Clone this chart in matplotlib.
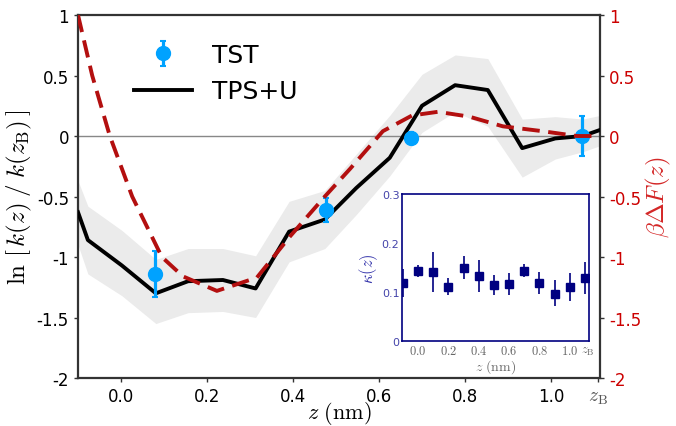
import numpy as np
import matplotlib.pyplot as plt

plt.rcParams['mathtext.fontset'] = 'cm'
plt.rcParams['font.family'] = 'DejaVu Sans'

# TPS+U rate profile with uncertainty band
z_tps = [-0.1, -0.077, 0.002, 0.081, 0.156, 0.237, 0.313, 0.391, 0.474, 0.547,
         0.625, 0.70, 0.777, 0.853, 0.933, 1.01, 1.074, 1.114]
lnk_tps = [-0.63, -0.86, -1.07, -1.30, -1.20, -1.19, -1.26, -0.79, -0.69, -0.43,
           -0.18, 0.25, 0.42, 0.38, -0.10, -0.02, 0.0, 0.05]
lnk_hi = [-0.37, -0.58, -0.78, -1.02, -0.93, -0.93, -0.99, -0.54, -0.45, -0.15,
          0.17, 0.51, 0.67, 0.64, 0.14, 0.16, 0.14, 0.17]
lnk_lo = [-0.90, -1.14, -1.32, -1.55, -1.46, -1.45, -1.50, -1.04, -0.93, -0.65,
          -0.33, 0.03, 0.20, 0.08, -0.34, -0.19, -0.13, -0.08]

# TST points
z_tst = [0.079, 0.477, 0.674, 1.072]
lnk_tst = [-1.14, -0.61, -0.02, 0.0]
err_tst = [0.19, 0.10, 0.05, 0.165]

# free energy profile
z_F = [-0.1, -0.067, -0.026, 0.026, 0.095, 0.144, 0.223, 0.316, 0.393, 0.474,
       0.533, 0.609, 0.677, 0.737, 0.81, 0.888, 0.98, 1.06, 1.114]
bF = [1.0, 0.5, 0.0, -0.5, -1.0, -1.16, -1.28, -1.17, -0.83, -0.50,
      -0.27, 0.04, 0.17, 0.20, 0.16, 0.08, 0.04, 0.0, 0.0]

# inset: transmission coefficient
z_kap = [-0.1, 0.0, 0.1, 0.2, 0.3, 0.4, 0.5, 0.6, 0.7, 0.8, 0.9, 1.0, 1.1]
kappa = [0.119, 0.144, 0.141, 0.110, 0.150, 0.132, 0.114, 0.117, 0.143, 0.118, 0.097, 0.110, 0.128]
kap_lo = [0.089, 0.130, 0.0995, 0.093, 0.127, 0.101, 0.094, 0.094, 0.130, 0.096, 0.071, 0.082, 0.096]
kap_hi = [0.147, 0.156, 0.182, 0.128, 0.173, 0.165, 0.135, 0.139, 0.157, 0.141, 0.124, 0.139, 0.161]

x_ticks = [0.0, 0.2, 0.4, 0.6, 0.8, 1.0]
x_ticklabels = ['0.0', '0.2', '0.4', '0.6', '0.8', '1.0']
z_B = 1.11
y_ticks = [1, 0.5, 0, -0.5, -1, -1.5, -2]
y_ticklabels = ['1', '0.5', '0', '-0.5', '-1', '-1.5', '-2']

red = '#cc0000'
dred = '#b30f0f'
navy = '#000080'

fig = plt.figure(figsize=(6.76, 4.27), dpi=100)
ax = fig.add_axes([0.1154, 0.1124, 0.7722, 0.8501])

ax.fill_between(z_tps, lnk_lo, lnk_hi, color='#ebebeb', lw=0, zorder=1)
ax.axhline(0, color='#888888', lw=1, zorder=2)
ax.plot(z_tps, lnk_tps, color='black', lw=2.8, zorder=4, label='TPS+U')
ax.errorbar(z_tst, lnk_tst, yerr=err_tst, fmt='o', color='#00a2ff', ms=10,
            elinewidth=2.3, capsize=2.5, capthick=1.5, zorder=5, label='TST')

ax.set_xlim(-0.1, 1.114)
ax.set_ylim(-2, 1)
ax.set_xticks(x_ticks + [z_B])
ax.set_xticklabels(x_ticklabels + [r'$z_{\rm B}$'], fontsize=12)
ax.get_xticklabels()[-1].set_color('#555555')
ax.get_xticklabels()[-1].set_fontsize(14)
ax.set_yticks(y_ticks)
ax.set_yticklabels(y_ticklabels, fontsize=12)
ax.tick_params(length=3, width=1, color='#333333')
ax.set_xlabel(r'$z\ (\mathrm{nm})$', fontsize=16)
ax.xaxis.set_label_coords(0.5, -0.058)
ax.set_ylabel(r'$\ln\,[\,k(z)\;/\;k(z_{\rm B})\,]$', fontsize=18, labelpad=2)
for s in ax.spines.values():
    s.set_linewidth(1.6)
    s.set_color('#333333')

h, l = ax.get_legend_handles_labels()
ax.legend(h[::-1], l[::-1], loc='upper left', bbox_to_anchor=(0.065, 0.985),
          frameon=False, fontsize=18, handlelength=2.3, handletextpad=0.8,
          labelspacing=0.5)

ax2 = ax.twinx()
ax2.plot(z_F, bF, color=dred, lw=2.8, dashes=(4.5, 2.2), zorder=3)
ax2.set_ylim(-2, 1)
ax2.set_yticks(y_ticks)
ax2.set_yticklabels(y_ticklabels, fontsize=12, color=red)
ax2.tick_params(length=3, width=1, color='#333333')
ax2.set_ylabel(r'$\beta\Delta F(z)$', fontsize=18, color=red, alpha=0.85, labelpad=2)
for s in ax2.spines.values():
    s.set_visible(False)

# inset
axi = fig.add_axes([0.595, 0.199, 0.276, 0.344])
yerr = [np.array(kappa) - np.array(kap_lo), np.array(kap_hi) - np.array(kappa)]
axi.errorbar(z_kap, kappa, yerr=yerr, fmt='s', color=navy, ms=6, elinewidth=1.2,
             capsize=0)
axi.set_xlim(-0.105, 1.125)
axi.set_ylim(0, 0.3)
axi.set_xticks(x_ticks + [1.12])
axi.set_xticklabels([r'$%s$' % t for t in x_ticklabels] + [r'$z_{\rm B}$'],
                    fontsize=9, color='#666666')
axi.set_yticks([0, 0.1, 0.2, 0.3])
axi.set_yticklabels(['0', '0.1', '0.2', '0.3'], fontsize=8, color='#4444aa')
axi.tick_params(length=0, pad=2)
axi.set_xlabel(r'$z\ (\mathrm{nm})$', fontsize=10, color='#666666', labelpad=0)
axi.set_ylabel(r'$\kappa(z)$', fontsize=12, color='#3333aa', labelpad=1)
for s in axi.spines.values():
    s.set_color(navy)
    s.set_linewidth(1.2)

fig.savefig('out.png', dpi=100)
